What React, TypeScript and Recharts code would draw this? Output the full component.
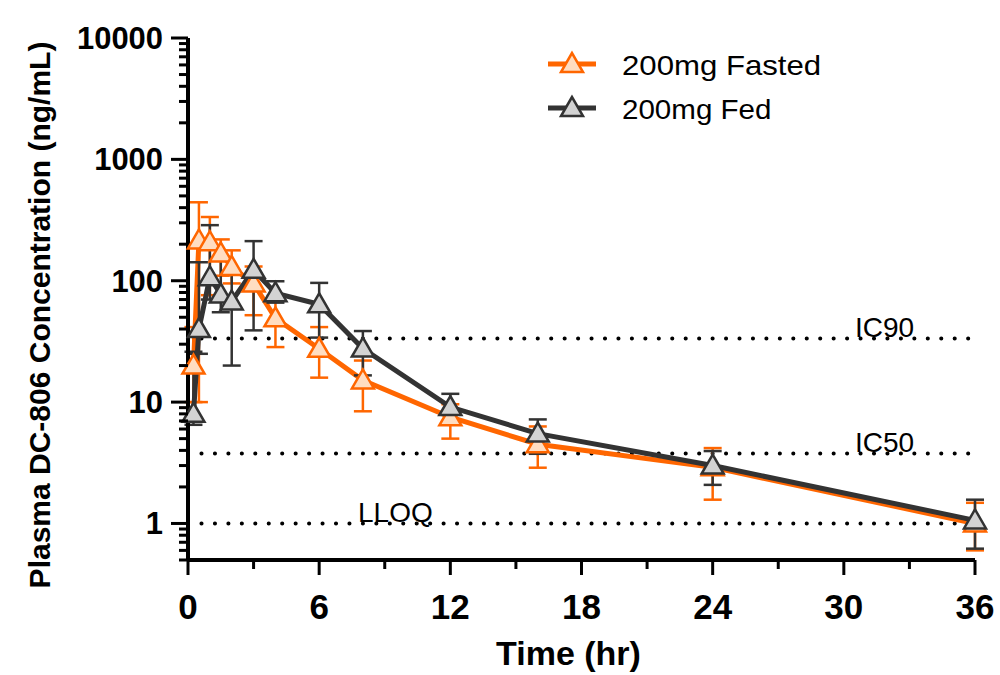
import { LineChart, Line, XAxis, YAxis, ErrorBar, ReferenceLine } from 'recharts';

const times = [0.25, 0.5, 1, 1.5, 2, 3, 4, 6, 8, 12, 16, 24, 36];

const fasted = [20, 215, 208, 168, 130, 95, 49, 27.5, 15.1, 7.5, 4.5, 2.9, 1.0];
const fastedHigh = [41.5, 443, 335, 219, 178, 131, 75, 41.5, 22, 9.6, 6.3, 4.18, 1.48];
const fastedLow = [10, 10, 76, 110, 95, 52, 28.4, 15.9, 8.4, 5.0, 2.88, 1.57, 0.6];

const fed = [8.0, 40, 107, 77, 67.5, 123, 79, 64, 27.6, 9.1, 5.5, 3.0, 1.06];
const fedHigh = [26, 142, 287, 157, 122, 212, 99, 96, 38.5, 11.7, 7.2, 3.95, 1.57];
const fedLow = [6.5, 25, 70, 55, 20, 39, 66, 34, 16.6, 6.6, 3.75, 2.08, 0.62];

const xTicks = [0, 3, 6, 9, 12, 15, 18, 21, 24, 27, 30, 33, 36];
const xLabels = [0, 6, 12, 18, 24, 30, 36];
const yMajor = [1, 10, 100, 1000, 10000];

const refLines = [
  { name: 'IC90', value: 33.5, side: 'right' },
  { name: 'IC50', value: 3.78, side: 'right' },
  { name: 'LLOQ', value: 1, side: 'left' },
];

const series = [
  { key: 'fasted', name: '200mg Fasted', color: '#FF6600', fill: '#FFDDC1' },
  { key: 'fed', name: '200mg Fed', color: '#333333', fill: '#D3D3D3' },
];

// minor ticks 2..9 per decade, plus 0.5..0.9 below 1
const yTicks: number[] = [0.5, 0.6, 0.7, 0.8, 0.9];
yMajor.forEach((m) => {
  yTicks.push(m);
  if (m < 10000) for (let k = 2; k <= 9; k++) yTicks.push(+(m * k).toPrecision(3));
});

const data = times.map((t, i) => ({
  time: t,
  fasted: fasted[i],
  fastedErr: [fasted[i] - fastedLow[i], fastedHigh[i] - fasted[i]],
  fed: fed[i],
  fedErr: [fed[i] - fedLow[i], fedHigh[i] - fed[i]],
}));

const FONT = 'Liberation Sans, Arial, sans-serif';

const Triangle = ({ cx, cy, stroke, fill }: any) => (
  <polygon
    points={`${cx},${cy - 11} ${cx - 11},${cy + 8} ${cx + 11},${cy + 8}`}
    fill={fill}
    stroke={stroke}
    strokeWidth={2.5}
  />
);

const YTick = ({ x, y, payload }: any) => {
  const v = payload.value;
  const major = yMajor.includes(v);
  const s = String(v);
  return (
    <g>
      <line x1={x - (major ? 17 : 9)} x2={x} y1={y} y2={y} stroke="#000" strokeWidth={3} />
      {major && (
        <text x={x - 25} y={y + 11} textAnchor="end" fontFamily={FONT} fontWeight="bold" fontSize={31}
          textLength={s.length * 17.2} lengthAdjust="spacingAndGlyphs" fill="#000">
          {s}
        </text>
      )}
    </g>
  );
};

const XTick = ({ x, y, payload }: any) => {
  const v = payload.value;
  const major = xLabels.includes(v);
  return (
    <g>
      <line x1={x} x2={x} y1={y} y2={y + (major ? 15 : 9)} stroke="#000" strokeWidth={3} />
      {major && (
        <text x={x} y={y + 59} textAnchor="middle" fontFamily={FONT} fontWeight="bold" fontSize={35} fill="#000">
          {v}
        </text>
      )}
    </g>
  );
};

const RefLabel = ({ viewBox, text, side }: any) => {
  const x = side === 'right' ? viewBox.x + viewBox.width - 120 : viewBox.x + 170;
  return (
    <text x={x} y={viewBox.y - 1} fontFamily={FONT} fontSize={28} fill="#000">
      {text}
    </text>
  );
};

const YLabel = ({ viewBox }: any) => {
  const cx = 50;
  const cy = viewBox.y + viewBox.height / 2 + 16;
  return (
    <text x={cx} y={cy} transform={`rotate(-90, ${cx}, ${cy})`} textAnchor="middle" fontFamily={FONT}
      fontWeight="bold" fontSize={30} fill="#000">
      Plasma DC-806 Concentration (ng/mL)
    </text>
  );
};

const XLabel = ({ viewBox }: any) => (
  <text x={viewBox.x + viewBox.width / 2 - 13} y={665} textAnchor="middle" fontFamily={FONT}
    fontWeight="bold" fontSize={34} fill="#000">
    Time (hr)
  </text>
);

const LegendBox = () => (
  <svg width={320} height={90} style={{ position: 'absolute', left: 530, top: 40 }}>
    {series.map((s, i) => {
      const y = 24 + i * 44;
      return (
        <g key={s.key}>
          <line x1={18} x2={66} y1={y} y2={y} stroke={s.color} strokeWidth={5} />
          <Triangle cx={42} cy={y} stroke={s.color} fill={s.fill} />
          <text x={92} y={y + 11} fontFamily={FONT} fontSize={28} fill="#000"
            textLength={s.name.length * 16.6} lengthAdjust="spacingAndGlyphs">
            {s.name}
          </text>
        </g>
      );
    })}
  </svg>
);

export default function App() {
  return (
    <div style={{ position: 'absolute', left: 0, top: 0, width: 1000, height: 675, background: '#fff' }}>
      <LineChart width={1000} height={675} data={data} margin={{ top: 38, right: 25, bottom: 0, left: 0 }}>
        <XAxis
          dataKey="time"
          type="number"
          domain={[0, 36]}
          ticks={xTicks}
          interval={0}
          height={115}
          tickSize={0}
          tickMargin={0}
          tickLine={false}
          axisLine={{ stroke: '#000', strokeWidth: 4 }}
          tick={<XTick />}
          label={<XLabel />}
        />
        <YAxis
          type="number"
          scale="log"
          domain={[0.5, 10000]}
          allowDataOverflow
          ticks={yTicks}
          interval={0}
          width={188}
          tickSize={0}
          tickMargin={0}
          tickLine={false}
          axisLine={{ stroke: '#000', strokeWidth: 4 }}
          tick={<YTick />}
          label={<YLabel />}
        />
        {refLines.map((r) => (
          <ReferenceLine
            key={r.name}
            y={r.value}
            stroke="#000"
            strokeWidth={4}
            strokeDasharray="0.1 13.35"
            strokeLinecap="round"
            label={<RefLabel text={r.name} side={r.side} />}
          />
        ))}
        <Line
          dataKey="fasted"
          name={series[0].name}
          stroke={series[0].color}
          strokeWidth={5}
          isAnimationActive={false}
          dot={(p: any) => <Triangle key={`f-${p.index}`} cx={p.cx} cy={p.cy} stroke={series[0].color} fill={series[0].fill} />}
        >
          <ErrorBar dataKey="fastedErr" direction="y" width={9} stroke={series[0].color} strokeWidth={2.5} />
        </Line>
        <Line
          dataKey="fed"
          name={series[1].name}
          stroke={series[1].color}
          strokeWidth={5}
          isAnimationActive={false}
          dot={(p: any) => <Triangle key={`g-${p.index}`} cx={p.cx} cy={p.cy} stroke={series[1].color} fill={series[1].fill} />}
        >
          <ErrorBar dataKey="fedErr" direction="y" width={9} stroke={series[1].color} strokeWidth={2.5} />
        </Line>
      </LineChart>
      <LegendBox />
    </div>
  );
}
